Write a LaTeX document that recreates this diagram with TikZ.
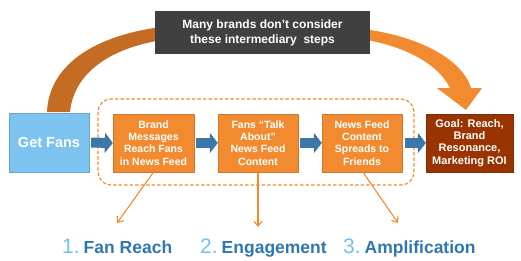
\documentclass[tikz,border=0pt]{standalone}
\usepackage{fontspec}
\setmainfont{Liberation Sans}
\usetikzlibrary{arrows.meta}
\definecolor{lblue}{HTML}{7CC3EF}
\definecolor{ablue}{HTML}{3B78A9}
\definecolor{tblue}{HTML}{2F77AE}
\definecolor{dblue}{HTML}{73C0EA}
\definecolor{orng}{HTML}{F28B30}
\definecolor{goalred}{HTML}{993300}
\definecolor{darkbox}{HTML}{404040}
\definecolor{brownarc}{HTML}{C46B24}
\tikzset{
  stepbox/.style={fill=orng, draw=orng!85!black, line width=0.3pt, minimum width=81pt, minimum height=58pt, inner sep=1pt, align=center, text=white, font=\bfseries\fontsize{10.5}{12.3}\selectfont},
  blockarrow/.style={draw=ablue, line width=10pt, -{Triangle[width=20pt,length=8pt]}},
  thinarrow/.style={draw=orng, line width=1.1pt, -{Straight Barb[length=5pt,width=8pt]}},
  steplabel/.style={anchor=base west, inner sep=0pt, text=tblue, font=\bfseries\fontsize{17.5}{20}\selectfont},
}
\begin{document}
\begin{tikzpicture}[x=1pt,y=-1pt]
\useasboundingbox (0,0) rectangle (521,260);
% big curved arrow
\fill[brownarc] (47,112) .. controls (49,62) and (100,33) .. (170,26) -- (170,39) .. controls (112,46) and (74,72) .. (70,112) -- cycle;
\fill[orng] (355,28) .. controls (415,34) and (462,58) .. (471,88) -- (482,88) -- (466,110) -- (437,88) -- (450,88) .. controls (438,64) and (405,45) .. (355,38) -- cycle;
% top box
\node[fill=darkbox, minimum width=215pt, minimum height=43pt, align=center, text=white, font=\bfseries\fontsize{12}{15}\selectfont] (top) at (262.5,32.5) {Many brands don’t consider\\these intermediary\ \ steps};
% dashed group
\draw[orng, line width=1.2pt, dash pattern=on 3.5pt off 2pt, rounded corners=13pt] (98,99) rectangle (414,185);
% boxes
\node[fill=lblue, draw=lblue!85!black, line width=0.3pt, minimum width=80pt, minimum height=59pt, text=white, font=\bfseries\fontsize{14.5}{17}\selectfont] (gf) at (49,142.5) {Get Fans};
\node[stepbox] (b1) at (153.5,143) {Brand\\Messages\\Reach Fans\\in News Feed};
\node[stepbox, minimum width=80pt] (b2) at (258,143) {Fans “Talk\\About”\\News Feed\\Content};
\node[stepbox, minimum width=80pt] (b3) at (362,143) {News Feed\\Content\\Spreads to\\Friends};
\node[stepbox, fill=goalred, draw=goalred!85!black, minimum width=87pt, font=\bfseries\fontsize{11}{12.3}\selectfont] (goal) at (469.5,143) {Goal: Reach,\\Brand\\Resonance,\\Marketing ROI};
% block arrows
\draw[blockarrow, shorten <=2pt] (gf.east) -- (b1.west);
\draw[blockarrow, shorten <=1.5pt] (b1.east) -- (b2.west);
\draw[blockarrow, shorten <=2pt] (b2.east) -- (b3.west);
\draw[blockarrow, shorten <=3pt] (b3.east) -- (goal.west);
% thin arrows
\coordinate (t1) at (117,223);
\coordinate (t2) at (258,227);
\coordinate (t3) at (398,223);
\draw[thinarrow] (b1.south) -- (t1);
\draw[thinarrow] (b2.south) -- (t2);
\draw[thinarrow] ([xshift=1pt]b3.south) -- (t3);
% labels
\node[steplabel] (l1) at (62,253) {\textcolor{dblue}{\mdseries\fontsize{21}{24}\selectfont 1.}\hspace{4pt}Fan Reach};
\node[steplabel] (l2) at (200,253) {\textcolor{dblue}{\mdseries\fontsize{21}{24}\selectfont 2.}\hspace{4pt}Engagement};
\node[steplabel] (l3) at (343,253) {\textcolor{dblue}{\mdseries\fontsize{21}{24}\selectfont 3.}\hspace{4pt}Amplification};
\end{tikzpicture}
\end{document}
